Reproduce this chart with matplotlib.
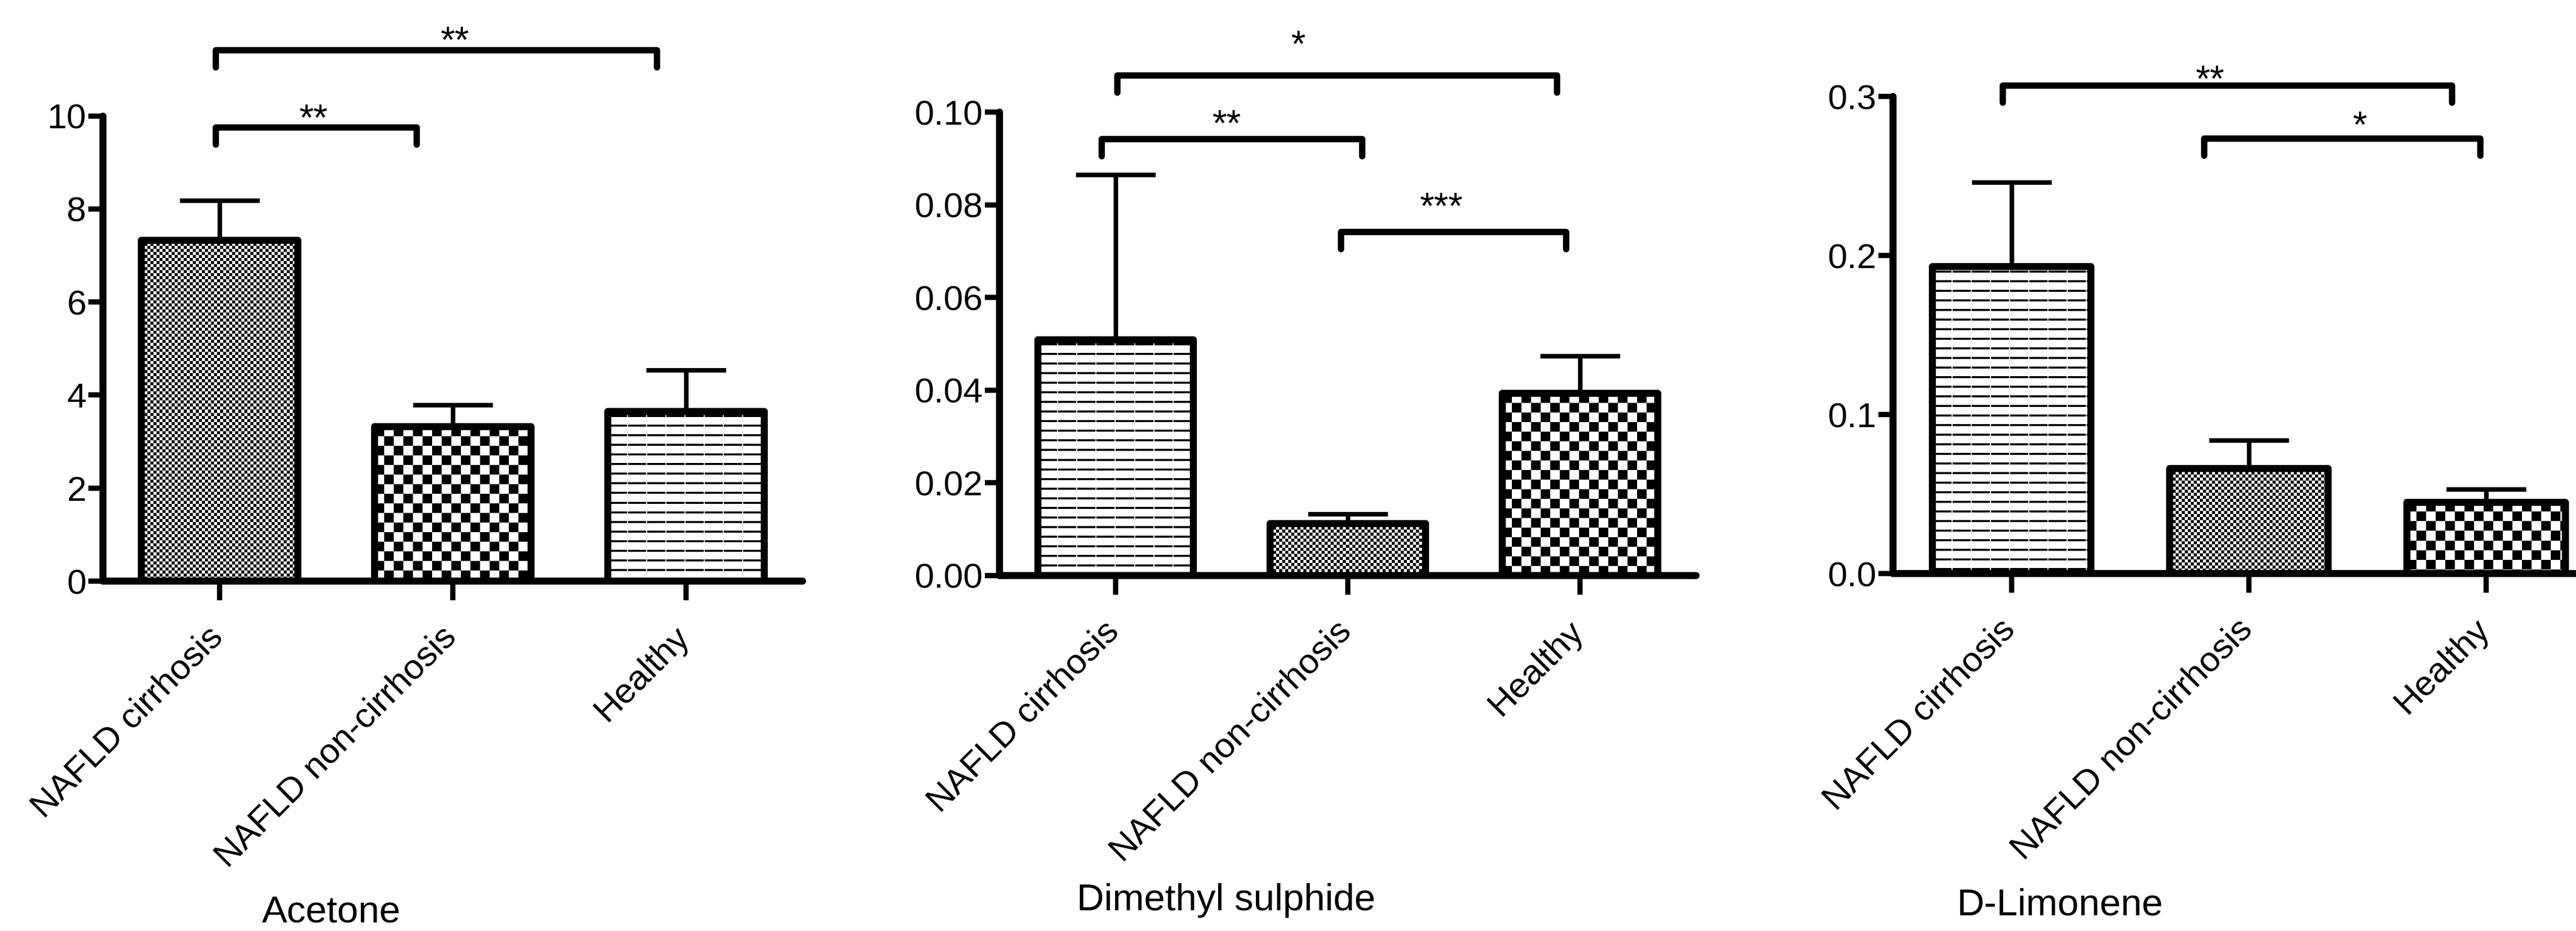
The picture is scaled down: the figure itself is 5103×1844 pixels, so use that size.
import numpy as np
import matplotlib
matplotlib.use('Agg')
import matplotlib.pyplot as plt
from matplotlib.transforms import ScaledTranslation

plt.rcParams['font.family'] = ['Liberation Sans', 'DejaVu Sans']

# groups, same order in every panel
categories = ['NAFLD cirrhosis', 'NAFLD non-cirrhosis', 'Healthy']

# mean and upper error (SEM)
acetone_mean = [7.33, 3.32, 3.65]
acetone_err = [0.85, 0.47, 0.89]
dms_mean = [0.0509, 0.0112, 0.0393]
dms_err = [0.0356, 0.0021, 0.0081]
limonene_mean = [0.193, 0.066, 0.0448]
limonene_err = [0.053, 0.0178, 0.0082]

# significance brackets: (x start, x end, y, label, text x, text y)
acetone_sig = [(-0.017, 0.844, 9.76, '**', 0.403, 10.12),
               (-0.017, 1.874, 11.42, '**', 1.009, 11.79)]
dms_sig = [(0.007, 1.90, 0.108, '*', 0.787, 0.1162),
           (-0.061, 1.061, 0.0942, '**', 0.478, 0.0991),
           (0.970, 1.939, 0.0742, '***', 1.404, 0.0813)]
limonene_sig = [(-0.038, 1.855, 0.307, '**', 0.836, 0.3156),
                (0.81, 1.974, 0.2737, '*', 1.468, 0.2867)]

titles = ['Acetone', 'Dimethyl sulphide', 'D-Limonene']

W, H = 5103, 1844
fig = plt.figure(figsize=(W / 100, H / 100), dpi=100)


def texture(kind, nh, nw):
    yy, xx = np.mgrid[0:nh, 0:nw]
    if kind == 'fine':
        return ((xx // 6 + yy // 6) % 2).astype(float)
    if kind == 'coarse':
        return ((xx // 19 + yy // 19) % 2).astype(float)
    # horizontal dashed lines
    line = ((yy % 19) >= 8) & ((yy % 19) < 12) & ((xx % 38) >= 2)
    return np.where(line, 0.0, 1.0)


def panel(rect, means, errs, fills, ticks, tick_fmt, ymax, sigs, title, title_xy):
    ax = fig.add_axes(rect)
    x = np.arange(len(categories))
    ax.set_xlim(-0.5, 2.5)
    ax.set_ylim(0, ymax)

    bars = ax.bar(x, means, width=0.67, color='white', edgecolor='none', zorder=1)
    for b, kind in zip(bars, fills):
        x0, y0 = b.get_x(), b.get_y()
        x1, y1 = x0 + b.get_width(), y0 + b.get_height()
        p0 = ax.transData.transform((x0, y0))
        p1 = ax.transData.transform((x1, y1))
        nw = max(int(round(p1[0] - p0[0])), 1)
        nh = max(int(round(p1[1] - p0[1])), 1)
        im = ax.imshow(texture(kind, nh, nw), cmap='gray', vmin=0, vmax=1,
                       extent=(x0, x1, y0, y1), aspect='auto',
                       interpolation='nearest', origin='upper', zorder=2)
        im.set_clip_path(b)
    ax.bar(x, means, width=0.67, fill=False, edgecolor='black', linewidth=10,
           joinstyle='round', zorder=3)
    ax.errorbar(x, means, yerr=[np.zeros(len(means)), errs], fmt='none',
                ecolor='black', elinewidth=6.5, capsize=57, capthick=6.5, zorder=0.5)

    ax.set_xlim(-0.5, 2.5)
    ax.set_ylim(0, ymax)

    for s in ['top', 'right']:
        ax.spines[s].set_visible(False)
    for s in ['left', 'bottom']:
        ax.spines[s].set_linewidth(10)
        ax.spines[s].set_capstyle('round')

    ax.set_yticks(ticks)
    ax.set_yticklabels([tick_fmt.format(t) for t in ticks], fontsize=50)
    ax.tick_params(axis='y', length=21, width=7.5, pad=3)
    ax.set_xticks(x)
    ax.set_xticklabels(categories, fontsize=50, rotation=45, ha='right',
                       rotation_mode='anchor', va='bottom')
    ax.tick_params(axis='x', length=27, width=7.5, pad=66)
    shift = ScaledTranslation(14 / 72, 4 / 72, fig.dpi_scale_trans)
    for lab in ax.get_xticklabels():
        lab.set_transform(lab.get_transform() + shift)

    for xs, xe, yb, lab, tx, ty in sigs:
        drop = 34 / (rect[3] * H) * ymax
        ax.plot([xs, xs, xe, xe], [yb - drop, yb, yb, yb - drop], color='black',
                lw=9, solid_capstyle='round', solid_joinstyle='round', clip_on=False)
        ax.annotate(lab, (tx, ty), xytext=(0, -28), textcoords='offset points',
                    ha='center', va='baseline', fontsize=53, annotation_clip=False)

    fig.text(title_xy[0] / W, 1 - title_xy[1] / H, title, fontsize=54,
             ha='center', va='center')
    return ax


panel([204 / W, 0.3758, 1386 / W, 0.4997], acetone_mean, acetone_err,
      ['fine', 'coarse', 'lines'], [0, 2, 4, 6, 8, 10], '{:.0f}', 10,
      acetone_sig, titles[0], (656, 1807))
panel([1980 / W, 0.3818, 1380 / W, 0.4978], dms_mean, dms_err,
      ['lines', 'fine', 'coarse'], [0, 0.02, 0.04, 0.06, 0.08, 0.10], '{:.2f}', 0.10,
      dms_sig, titles[1], (2429, 1783))
panel([3750 / W, 0.3839, 1410 / W, 0.5125], limonene_mean, limonene_err,
      ['lines', 'fine', 'coarse'], [0, 0.1, 0.2, 0.3], '{:.1f}', 0.3,
      limonene_sig, titles[2], (4081, 1793))

fig.savefig('out.png', dpi=100, facecolor='white')
